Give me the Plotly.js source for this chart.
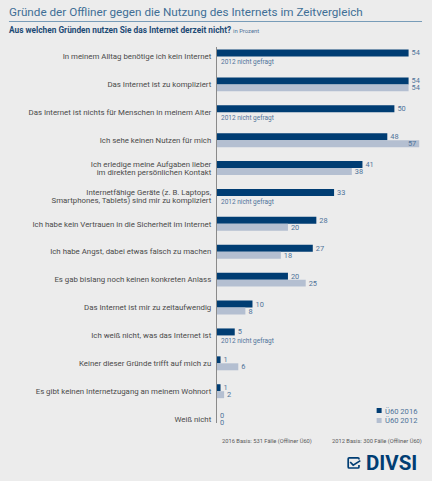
<!DOCTYPE html>
<html><head><meta charset="utf-8">
<script src="https://cdn.plot.ly/plotly-3.0.1.min.js"></script>
<style>html,body{margin:0;padding:0;background:#ececec}</style></head>
<body><div id="c" style="width:432px;height:481px"></div>
<script>
const categories = [
 "In meinem Alltag benötige ich kein Internet",
 "Das Internet ist zu kompliziert",
 "Das Internet ist nichts für Menschen in meinem Alter",
 "Ich sehe keinen Nutzen für mich",
 "Ich erledige meine Aufgaben lieber<br>im direkten persönlichen Kontakt",
 "Internetfähige Geräte (z. B. Laptops,<br>Smartphones, Tablets) sind mir zu kompliziert",
 "Ich habe kein Vertrauen in die Sicherheit im Internet",
 "Ich habe Angst, dabei etwas falsch zu machen",
 "Es gab bislang noch keinen konkreten Anlass",
 "Das Internet ist mir zu zeitaufwendig",
 "Ich weiß nicht, was das Internet ist",
 "Keiner dieser Gründe trifft auf mich zu",
 "Es gibt keinen Internetzugang an meinem Wohnort",
 "Weiß nicht"];
const values2016 = [54,54,50,48,41,33,28,27,20,10,5,1,1,0];
const values2012 = [null,54,null,57,38,null,20,18,25,8,null,6,2,0];
const seriesNames = ["Ü60 2016","Ü60 2012"];
const title = "Gründe der Offliner gegen die Nutzung des Internets im Zeitvergleich";
const subtitle = "<b>Aus welchen Gründen nutzen Sie das Internet derzeit nicht?</b>";
const notAsked = "2012 nicht gefragt";
const navy="#003d73", pale="#b4bfd1", numC="#4f7399", font="Roboto, sans-serif";
const W=432,H=481,L=216.5,T=47,B=423;
const px=x=>(x-L)/(W-L), py=y=>(B-y)/(B-T);
const note=(x,y,text,size,color,anchor)=>({xref:'paper',yref:'paper',x:px(x),y:py(y),text,showarrow:false,
  xanchor:anchor||'left',yanchor:'middle',font:{family:font,size,color},borderpad:0,borderwidth:0});
const annotations=[
 note(8,12.5,title,11.7,"#3f6f96"),
 note(8,30.5,subtitle,8.3,"#1c4a75"),
 note(233,31,"in Prozent",5.9,"#4f7399"),
 note(222,441,"2016 Basis: 531 Fälle (Offliner Ü60)",5.75,"#5a5a5a"),
 note(332,441,"2012 Basis: 300 Fälle (Offliner Ü60)",5.75,"#5a5a5a"),
 note(365.5,463,"<b>DIVSI</b>",20.5,navy),
 note(385,411,seriesNames[0],7.6,numC),
 note(385,420.5,seriesNames[1],7.6,numC)
];
values2012.forEach((v,i)=>{ if(v===null) annotations.push({x:0,y:categories[i],xref:'x',yref:'y',xanchor:'left',yanchor:'middle',
   xshift:3,yshift:-6,text:notAsked,showarrow:false,font:{family:font,size:6.5,color:numC},borderpad:0}); });
const mk=(name,vals,color,pos)=>({type:'bar',orientation:'h',name,y:categories,x:vals,
  text:vals.map(v=>v===null?'':String(v)),textposition:pos||'outside',insidetextanchor:'end',constraintext:'none',textangle:0,
  textfont:{family:font,size:7.4,color:numC},cliponaxis:false,marker:{color},hoverinfo:'skip'});
const traces=[mk(seriesNames[0],values2016,navy),
  mk(seriesNames[1],values2012,pale,values2012.map(v=>v===57?'inside':'outside'))];
const P=(x,y)=>`${px(x)} ${py(y)}`;
const shapes=[
 {type:'line',xref:'paper',yref:'paper',x0:px(8),x1:px(422),y0:py(21.5),y1:py(21.5),line:{color:"#5b88ab",width:0.8}},
 {type:'rect',xref:'paper',yref:'paper',x0:px(376.5),x1:px(381.5),y0:py(408),y1:py(413),fillcolor:navy,line:{width:0}},
 {type:'rect',xref:'paper',yref:'paper',x0:px(376.5),x1:px(381.5),y0:py(418),y1:py(423),fillcolor:pale,line:{width:0}},
 {type:'path',xref:'paper',yref:'paper',line:{color:navy,width:1.7},
  path:`M ${P(358.8,459.5)} L ${P(358.8,458.8)} Q ${P(358.8,457.8)} ${P(357.8,457.8)} L ${P(349,457.8)} Q ${P(348,457.8)} ${P(348,458.8)} L ${P(348,467)} Q ${P(348,468)} ${P(349,468)} L ${P(357.8,468)} Q ${P(358.8,468)} ${P(358.8,467)} L ${P(358.8,465)}`},
 {type:'path',xref:'paper',yref:'paper',path:`M ${P(350,462)} L ${P(353,465.2)} L ${P(360.2,460.6)}`,line:{color:navy,width:1.7}}
];
Plotly.newPlot('c',traces,{
 width:W,height:H,autosize:false,paper_bgcolor:"#ececec",plot_bgcolor:"#ececec",
 margin:{l:L,r:0,t:T,b:H-B,pad:0},showlegend:false,
 barmode:'group',bargap:0.5,bargroupgap:0,
 font:{family:font,color:"#444"},
 xaxis:{range:[0,60.6],visible:false,showgrid:false,zeroline:false},
 yaxis:{type:'category',range:[13.14,-0.34],autorange:false,showgrid:false,zeroline:false,showline:true,
   linecolor:"#8a8a8a",linewidth:1.2,ticks:'outside',ticklen:3,tickcolor:'rgba(0,0,0,0)',tickfont:{family:font,size:7.85,color:"#4a4a4a"},automargin:false},
 annotations,shapes
},{displayModeBar:false,staticPlot:true}).then(()=>{
  // tighten the line spacing of the two-line tick labels
  document.querySelectorAll('.ytick text').forEach(t=>{
    const lines=t.querySelectorAll('tspan.line');
    if(lines.length===2){
      const y0=parseFloat(lines[0].getAttribute('y')), y1=parseFloat(lines[1].getAttribute('y'));
      lines[0].setAttribute('y',y0+1.4);
      lines[1].setAttribute('y',y1-0.8);
    }
  });
});
</script></body></html>
